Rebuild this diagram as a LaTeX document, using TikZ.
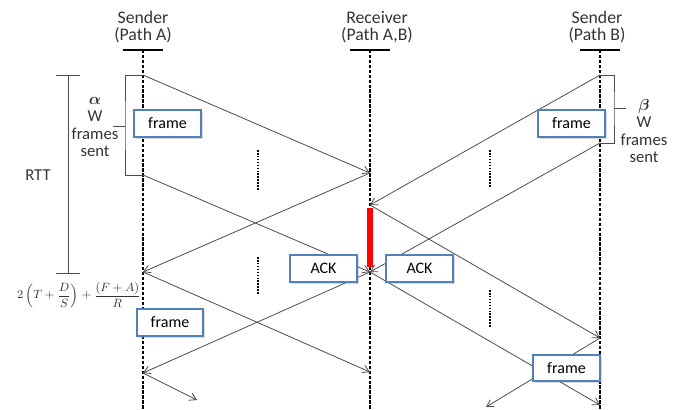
\documentclass[tikz,border=0pt]{standalone}
\usepackage{fontspec}
\usepackage{bm}
\setmainfont{Carlito}
\usetikzlibrary{arrows.meta,shadows}
\definecolor{boxblue}{RGB}{79,129,189}

\begin{document}
\begin{tikzpicture}[x=0.75pt,y=-0.75pt,>={Straight Barb[length=5pt,width=6pt]},
  lane/.style={line width=1.1pt,dash pattern=on 2.5pt off 1.2pt},
  msg/.style={->,draw=black!70,line width=0.6pt},
  gap/.style={line width=2pt,dash pattern=on 1.2pt off 1pt},
  pkt/.style={draw=boxblue,line width=1.3pt,fill=white,minimum width=50pt,minimum height=20pt,inner sep=1pt,
    drop shadow={opacity=0.3,shadow xshift=1.5pt,shadow yshift=-1.5pt}},
  hdr/.style={align=center,text=black!80,font=\fontsize{13.3}{12.8}\selectfont},
  font=\fontsize{12}{12.8}\selectfont]
  \useasboundingbox (0,0) rectangle (678,410);
  \node[hdr] (sA) at (143,27) {Sender\\(Path A)};
  \node[hdr] (rc) at (377,27) {Receiver\\(Path A,B)};
  \node[hdr] (sB) at (597,27) {Sender\\(Path B)};
  \coordinate (A0) at (143,50); \coordinate (A9) at (143,410);
  \coordinate (R0) at (370,50); \coordinate (R9) at (370,410);
  \coordinate (B0) at (600,50); \coordinate (B9) at (600,410);
  \draw[line width=1pt] (A0) ++(-20,0) -- ++(40,0);
  \draw[line width=1pt] (R0) ++(-20,0) -- ++(40,0);
  \draw[line width=1pt] (B0) ++(-20,0) -- ++(40,0);
  \draw[lane] (A0) -- (A9); \draw[lane] (R0) -- (R9); \draw[lane] (B0) -- (B9);
  \coordinate (a1) at (143,75); \coordinate (a2) at (143,175); \coordinate (a3) at (143,272); \coordinate (a4) at (143,373);
  \coordinate (r1) at (370,173); \coordinate (r2) at (370,205); \coordinate (r3) at (370,272); \coordinate (r4) at (370,372);
  \coordinate (b1) at (600,75); \coordinate (b2) at (600,143); \coordinate (b3) at (600,338); \coordinate (b4) at (600,405);
  \coordinate (aend) at (197,400); \coordinate (bend) at (486,407);
  \draw[msg] (a1)--(r1); \draw[msg] (r1)--(a3); \draw[msg] (a2)--(r3); \draw[msg] (r3)--(a4);
  \draw[msg] (a3)--(r4); \draw[msg] (a4)--(aend);
  \draw[msg] (b1)--(r2); \draw[msg] (b2)--(r3); \draw[msg] (r2)--(b3); \draw[msg] (r3)--(b4); \draw[msg] (b3)--(bend);
  \coordinate (hold1) at (370,208); \coordinate (hold2) at (370,267);
  \draw[red,line width=3.8pt] (hold1) -- (hold2);
  \draw[gap] (258,150) -- (258,190); \draw[gap] (258,257) -- (258,295);
  \draw[gap] (490,150) -- (490,188); \draw[gap] (490,290) -- (490,328);
  \coordinate (atick) at (125,126); \coordinate (btick) at (614,108);
  \draw[black!70,line width=0.6pt] (a1) -| (atick) |- (a2); \draw[black!70,line width=0.6pt] (atick) -- ++(-12,0);
  \draw[black!70,line width=0.6pt] (b1) -| (btick) |- (b2); \draw[black!70,line width=0.6pt] (btick) -- ++(12,0);
  \node[align=center,text=black!80,font=\fontsize{12.5}{12.8}\selectfont] (alab) at (95,127) {$\bm{\alpha}$\\W\\frames\\sent};
  \node[align=center,text=black!80,font=\fontsize{12.5}{12.8}\selectfont] (blab) at (644,131) {$\bm{\beta}$\\W\\frames\\sent};
  \coordinate (rtt1) at (68,75); \coordinate (rtt2) at (68,273);
  \draw[black!70,line width=0.6pt] (rtt1) -- (rtt2);
  \draw[black!70,line width=0.6pt] (rtt1) ++(-12,0) -- ++(24,0); \draw[black!70,line width=0.6pt] (rtt2) ++(-12,0) -- ++(24,0);
  \node[text=black!80,font=\fontsize{12.5}{12.8}\selectfont] (rtt) at (38,175) {RTT};
  \node[anchor=east,inner sep=0pt,text=black!80] (form) at (141,295) {\fontsize{9.4}{12}\selectfont$\displaystyle 2\left(T+\frac{D}{S}\right)+\frac{(F+A)}{R}$};
  \node[pkt] (frameA) at (167.5,123.5) {frame};
  \node[pkt] (frameB) at (571.5,123.5) {frame};
  \node[pkt] (ackL) at (323.5,268.5) {ACK};
  \node[pkt] (ackR) at (419.5,268.5) {ACK};
  \node[pkt] (frameA2) at (170,322.5) {frame};
  \node[pkt] (frameB2) at (566.5,368) {frame};
\end{tikzpicture}
\end{document}
